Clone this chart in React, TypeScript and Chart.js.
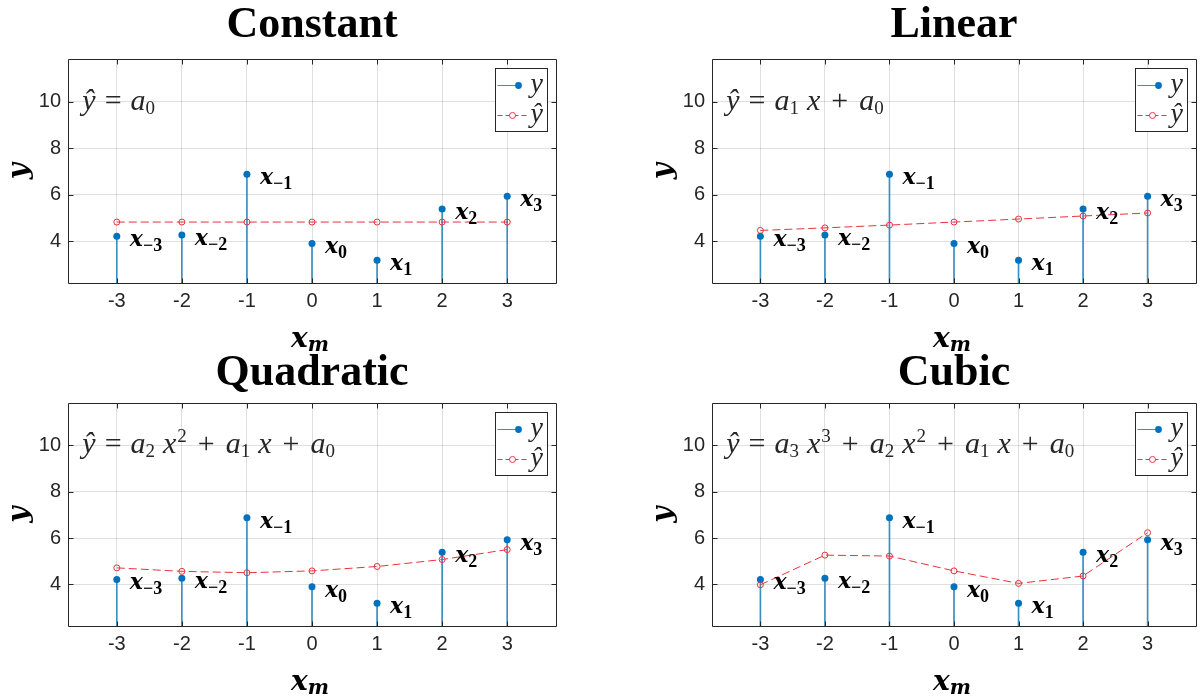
import React, { useEffect, useRef } from 'react';
import { Chart, registerables } from 'chart.js';

Chart.register(...registerables);

// ---------- data ----------
const X_VALUES = [-3, -2, -1, 0, 1, 2, 3];
const Y_VALUES = [4.21, 4.26, 6.88, 3.9, 3.18, 5.38, 5.93];
const FIT_CONSTANT = [4.82, 4.82, 4.82, 4.82, 4.82, 4.82, 4.82];
const FIT_LINEAR = [4.46, 4.57, 4.69, 4.82, 4.95, 5.08, 5.21];
const FIT_QUADRATIC = [4.71, 4.56, 4.5, 4.58, 4.77, 5.07, 5.5];
const FIT_CUBIC = [3.98, 5.26, 5.22, 4.58, 4.04, 4.36, 6.23];
const POINT_SUBSCRIPTS = ['\u22123', '\u22122', '\u22121', '0', '1', '2', '3'];
const X_TICKS = [-3, -2, -1, 0, 1, 2, 3];
const Y_TICKS = [4, 6, 8, 10];
const X_MIN = -3.75;
const X_MAX = 3.75;
const Y_MIN = 2.2;
const Y_MAX = 11.83;
const TITLES = ['Constant', 'Linear', 'Quadratic', 'Cubic'];
const EQ_POS_X = -3.53;
const EQ_POS_Y = 10;

type Tok = [string, 'i' | 'r' | 'sub' | 'sup', number];
const EQ_CONSTANT: Tok[] = [['\u0177', 'i', 0], ['=', 'r', 9], ['a', 'i', 9], ['0', 'sub', 0]];
const EQ_LINEAR: Tok[] = [
  ['\u0177', 'i', 0], ['=', 'r', 9], ['a', 'i', 9], ['1', 'sub', 0], ['x', 'i', 8],
  ['+', 'r', 11], ['a', 'i', 11], ['0', 'sub', 0],
];
const EQ_QUADRATIC: Tok[] = [
  ['\u0177', 'i', 0], ['=', 'r', 9], ['a', 'i', 9], ['2', 'sub', 0], ['x', 'i', 8], ['2', 'sup', 1],
  ['+', 'r', 11], ['a', 'i', 11], ['1', 'sub', 0], ['x', 'i', 8],
  ['+', 'r', 11], ['a', 'i', 11], ['0', 'sub', 0],
];
const EQ_CUBIC: Tok[] = [
  ['\u0177', 'i', 0], ['=', 'r', 9], ['a', 'i', 9], ['3', 'sub', 0], ['x', 'i', 8], ['3', 'sup', 1],
  ['+', 'r', 11], ['a', 'i', 11], ['2', 'sub', 0], ['x', 'i', 8], ['2', 'sup', 1],
  ['+', 'r', 11], ['a', 'i', 11], ['1', 'sub', 0], ['x', 'i', 8],
  ['+', 'r', 11], ['a', 'i', 11], ['0', 'sub', 0],
];

// ---------- styles ----------
const BLUE = '#0072BD';
const STEM = '#3a8ec2';
const RED = '#e8323c';
const AXIS = '#262626';
const GRID = 'rgba(38,38,38,0.15)';

interface PanelDef {
  title: string;
  fit: number[];
  eq: Tok[];
  left: number;
  top: number;
  width: number;
  height: number;
  area: { left: number; right: number; top: number; bottom: number };
  titleBaseline: number;
}

const PANELS: PanelDef[] = [
  { title: TITLES[0], fit: FIT_CONSTANT, eq: EQ_CONSTANT, left: 0, top: 0, width: 600, height: 352,
    area: { left: 68, right: 556, top: 59, bottom: 283 }, titleBaseline: 37 },
  { title: TITLES[1], fit: FIT_LINEAR, eq: EQ_LINEAR, left: 600, top: 0, width: 601, height: 352,
    area: { left: 112, right: 601, top: 59, bottom: 283 }, titleBaseline: 37 },
  { title: TITLES[2], fit: FIT_QUADRATIC, eq: EQ_QUADRATIC, left: 0, top: 344, width: 600, height: 353,
    area: { left: 68, right: 556, top: 59, bottom: 282 }, titleBaseline: 41 },
  { title: TITLES[3], fit: FIT_CUBIC, eq: EQ_CUBIC, left: 600, top: 344, width: 601, height: 353,
    area: { left: 112, right: 601, top: 59, bottom: 282 }, titleBaseline: 41 },
];

function drawCentered(ctx: CanvasRenderingContext2D, text: string, cx: number, cy: number) {
  const m = ctx.measureText(text);
  const asc = m.actualBoundingBoxAscent;
  const desc = m.actualBoundingBoxDescent;
  ctx.textAlign = 'center';
  ctx.textBaseline = 'alphabetic';
  ctx.fillText(text, cx, cy + (asc - desc) / 2);
}

const decorPlugin = {
  id: 'decor',
  afterDatasetsDraw(chart: any, _args: any, opts: any) {
    const p: PanelDef = opts.panel;
    if (!p) return;
    const ctx: CanvasRenderingContext2D = chart.ctx;
    const a = chart.chartArea;
    const xs = chart.scales.x;
    const ys = chart.scales.y;
    ctx.save();

    // axes box
    ctx.strokeStyle = AXIS;
    ctx.lineWidth = 1;
    const L = Math.round(a.left) + 0.5;
    const T = Math.round(a.top) + 0.5;
    const R = Math.round(a.right) + 0.5;
    const B = Math.round(a.bottom) + 0.5;
    ctx.beginPath();
    ctx.moveTo(L, T); ctx.lineTo(R, T); ctx.lineTo(R, B); ctx.lineTo(L, B); ctx.closePath();
    ctx.stroke();
    // inward tick marks
    ctx.beginPath();
    X_TICKS.forEach((v) => {
      const px = Math.round(xs.getPixelForValue(v)) + 0.5;
      ctx.moveTo(px, B); ctx.lineTo(px, B - 5);
      ctx.moveTo(px, T); ctx.lineTo(px, T + 5);
    });
    Y_TICKS.forEach((v) => {
      const py = Math.round(ys.getPixelForValue(v)) + 0.5;
      ctx.moveTo(L, py); ctx.lineTo(L + 5, py);
      ctx.moveTo(R, py); ctx.lineTo(R - 5, py);
    });
    ctx.stroke();

    // title
    ctx.fillStyle = '#000';
    ctx.font = "bold 44px 'Liberation Serif'";
    ctx.textAlign = 'center';
    ctx.textBaseline = 'alphabetic';
    ctx.fillText(p.title, (a.left + a.right) / 2, p.titleBaseline);

    // y axis label
    ctx.save();
    ctx.translate(a.left - 45.5, (a.top + a.bottom) / 2);
    ctx.rotate(-Math.PI / 2);
    ctx.font = "italic bold 28px 'DejaVu Serif'";
    drawCentered(ctx, 'y', 0, 0);
    ctx.restore();

    // x axis label x_m
    ctx.font = "italic bold 28px 'DejaVu Serif'";
    const wx = ctx.measureText('x').width;
    ctx.font = "italic bold 20px 'DejaVu Serif'";
    const wm = ctx.measureText('m').width;
    const cx = (a.left + a.right) / 2 - 2;
    const sx = cx - (wx + wm) / 2;
    const base = a.bottom + 63.5;
    ctx.textAlign = 'left';
    ctx.font = "italic bold 28px 'DejaVu Serif'";
    ctx.fillText('x', sx, base);
    ctx.font = "italic bold 20px 'DejaVu Serif'";
    ctx.fillText('m', sx + wx, base + 4);

    // point labels
    X_VALUES.forEach((xv, i) => {
      const px = xs.getPixelForValue(xv);
      const py = ys.getPixelForValue(Y_VALUES[i]);
      ctx.font = "italic bold 22px 'DejaVu Serif'";
      const w = ctx.measureText('x').width;
      ctx.fillText('x', px + 13, py + 10);
      ctx.font = "bold 18px 'Liberation Serif'";
      ctx.fillText(POINT_SUBSCRIPTS[i], px + 13 + w, py + 15);
    });

    // equation
    ctx.fillStyle = AXIS;
    let ex = xs.getPixelForValue(EQ_POS_X);
    const eb = ys.getPixelForValue(EQ_POS_Y) + 8;
    p.eq.forEach(([t, k, gap]) => {
      ex += gap;
      if (k === 'i') {
        ctx.font = "italic 30px 'Liberation Serif'";
        ctx.fillText(t, ex, eb);
      } else if (k === 'r') {
        ctx.font = "30px 'Liberation Serif'";
        ctx.fillText(t, ex, eb);
      } else if (k === 'sub') {
        ctx.font = "19px 'Liberation Serif'";
        ctx.fillText(t, ex, eb + 4);
      } else {
        ctx.font = "19px 'Liberation Serif'";
        ctx.fillText(t, ex, eb - 11);
      }
      ex += ctx.measureText(t).width;
    });

    // legend
    const bx = Math.round(a.right - 61) + 0.5;
    const by = Math.round(a.top + 9) + 0.5;
    const bw = 52;
    const bh = 63;
    ctx.fillStyle = '#fff';
    ctx.fillRect(bx, by, bw, bh);
    ctx.strokeStyle = AXIS;
    ctx.lineWidth = 1;
    ctx.strokeRect(bx, by, bw, bh);
    const r1 = by + 17;
    const r2 = by + 47;
    ctx.strokeStyle = STEM;
    ctx.beginPath();
    ctx.moveTo(bx + 2, r1); ctx.lineTo(bx + 23, r1);
    ctx.stroke();
    ctx.fillStyle = BLUE;
    ctx.beginPath();
    ctx.arc(bx + 23, r1, 3.4, 0, Math.PI * 2);
    ctx.fill();
    ctx.strokeStyle = RED;
    ctx.setLineDash([5, 3]);
    ctx.beginPath();
    ctx.moveTo(bx + 2, r2); ctx.lineTo(bx + 33, r2);
    ctx.stroke();
    ctx.setLineDash([]);
    ctx.fillStyle = '#fff';
    ctx.beginPath();
    ctx.arc(bx + 17, r2, 3, 0, Math.PI * 2);
    ctx.fill();
    ctx.stroke();
    ctx.fillStyle = AXIS;
    ctx.font = "italic 28px 'Liberation Serif'";
    ctx.textAlign = 'left';
    ctx.fillText('y', bx + 35, r1 + 6);
    ctx.fillText('\u0177', bx + 35, r2 + 6);

    ctx.restore();
  },
};

function Panel({ def }: { def: PanelDef }) {
  const ref = useRef<HTMLCanvasElement>(null);
  useEffect(() => {
    if (!ref.current) return;
    const a = def.area;
    const pts = X_VALUES.map((x, i) => ({ x, y: Y_VALUES[i] }));
    const fitPts = X_VALUES.map((x, i) => ({ x, y: def.fit[i] }));
    const chart = new Chart(ref.current, {
      type: 'scatter',
      data: {
        datasets: [
          {
            type: 'line',
            data: fitPts,
            borderColor: RED,
            borderWidth: 1,
            borderDash: [8, 4],
            pointRadius: 3,
            pointBackgroundColor: 'rgba(0,0,0,0)',
            pointBorderColor: RED,
            pointBorderWidth: 1,
            fill: false,
            tension: 0,
            order: 1,
          } as any,
          {
            type: 'scatter',
            data: pts,
            pointRadius: 3.5,
            pointBackgroundColor: BLUE,
            pointBorderWidth: 0,
            order: 2,
          } as any,
          {
            type: 'bar',
            data: pts,
            backgroundColor: STEM,
            borderWidth: 0,
            barThickness: 1,
            order: 3,
          } as any,
        ],
      },
      options: {
        animation: false,
        responsive: false,
        maintainAspectRatio: false,
        events: [],
        layout: { padding: { left: 0, top: a.top, right: def.width - a.right, bottom: 0 } },
        plugins: {
          legend: { display: false },
          tooltip: { enabled: false },
          title: { display: false },
          decor: { panel: def },
        } as any,
        scales: {
          x: {
            type: 'linear',
            min: X_MIN,
            max: X_MAX,
            offset: false,
            afterBuildTicks: (s: any) => { s.ticks = X_TICKS.map((v) => ({ value: v })); },
            afterFit: (s: any) => { s.height = def.height - a.bottom; },
            grid: { color: GRID, drawTicks: false, lineWidth: 1, offset: false },
            border: { display: false },
            ticks: {
              color: AXIS,
              font: { family: "'Liberation Sans', Arial", size: 20 },
              padding: 6,
              maxRotation: 0,
              autoSkip: false,
              callback: (v: any) => String(v),
            },
          },
          y: {
            type: 'linear',
            min: Y_MIN,
            max: Y_MAX,
            afterBuildTicks: (s: any) => { s.ticks = Y_TICKS.map((v) => ({ value: v })); },
            afterFit: (s: any) => { s.width = a.left; },
            grid: { color: GRID, drawTicks: false, lineWidth: 1 },
            border: { display: false },
            ticks: {
              color: AXIS,
              font: { family: "'Liberation Sans', Arial", size: 20 },
              padding: 7,
              autoSkip: false,
              callback: (v: any) => String(v),
            },
          },
        },
      } as any,
      plugins: [decorPlugin as any],
    });
    return () => chart.destroy();
  }, [def]);
  return (
    <canvas
      ref={ref}
      width={def.width}
      height={def.height}
      style={{ position: 'absolute', left: def.left, top: def.top, width: def.width, height: def.height }}
    />
  );
}

export default function App() {
  return (
    <div style={{ position: 'absolute', left: 0, top: 0, width: 1201, height: 697, background: '#fff', overflow: 'hidden' }}>
      {PANELS.map((p) => (
        <Panel key={p.title} def={p} />
      ))}
    </div>
  );
}
